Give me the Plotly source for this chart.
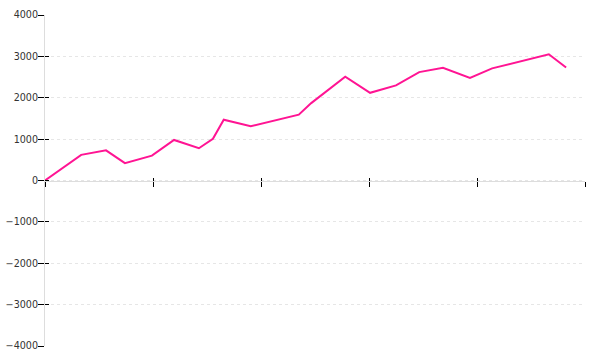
import plotly.graph_objects as go

x_vals = [0, 6.7, 11.3, 14.8, 19.8, 23.9, 28.5, 31.1, 33.1, 38.1, 47.0, 49.3, 55.6, 60.2, 65.0, 69.3, 73.7, 78.7, 82.8, 93.3, 96.5]
y_vals = [0, 620, 730, 420, 600, 980, 780, 1010, 1470, 1310, 1590, 1870, 2510, 2120, 2300, 2620, 2725, 2480, 2710, 3050, 2730]
x_ticks = [0, 20, 40, 60, 80, 100]
y_ticks = [-4000, -3000, -2000, -1000, 0, 1000, 2000, 3000, 4000]

fig = go.Figure()
# invisible helper trace so the overlaid tick axes are rendered
fig.add_trace(go.Scatter(x=x_vals, y=y_vals, mode="lines", xaxis="x2", yaxis="y2",
                         line=dict(color="rgba(0,0,0,0)", width=0), hoverinfo="skip"))
fig.add_trace(go.Scatter(x=x_vals, y=y_vals, mode="lines",
                         line=dict(color="#ff1493", width=2), hoverinfo="skip"))

font = dict(family="DejaVu Sans", size=9.6, color="#333")
fig.update_layout(
    width=600, height=360,
    margin=dict(l=45, r=15, t=15, b=14),
    paper_bgcolor="white", plot_bgcolor="white",
    showlegend=False,
    font=font,
    xaxis=dict(range=[0, 100], tickvals=x_ticks, showticklabels=False,
               showgrid=False, zeroline=False, showline=True, linecolor="#dddddd",
               linewidth=1, ticks="outside", ticklen=5, tickcolor="#000",
               anchor="free", position=0.5, automargin=False),
    xaxis2=dict(range=[0, 100], tickvals=x_ticks, showticklabels=False,
                showgrid=False, zeroline=False, showline=False, overlaying="x",
                ticks="inside", ticklen=3, tickcolor="#000", anchor="free",
                position=0.5, automargin=False),
    yaxis=dict(range=[-4000, 4000], tickvals=y_ticks, showgrid=True,
               gridcolor="#e6e6e6", griddash="dot", gridwidth=1, zeroline=False,
               showline=True, linecolor="#dddddd", linewidth=1,
               ticks="outside", ticklen=6, tickcolor="#000", tickfont=font,
               ticklabelstandoff=-2, automargin=False),
    yaxis2=dict(range=[-4000, 4000], tickvals=y_ticks, showticklabels=False,
                showgrid=False, zeroline=False, showline=False, overlaying="y",
                ticks="inside", ticklen=4, tickcolor="#000", automargin=False),
)

fig.write_html("out.html")
